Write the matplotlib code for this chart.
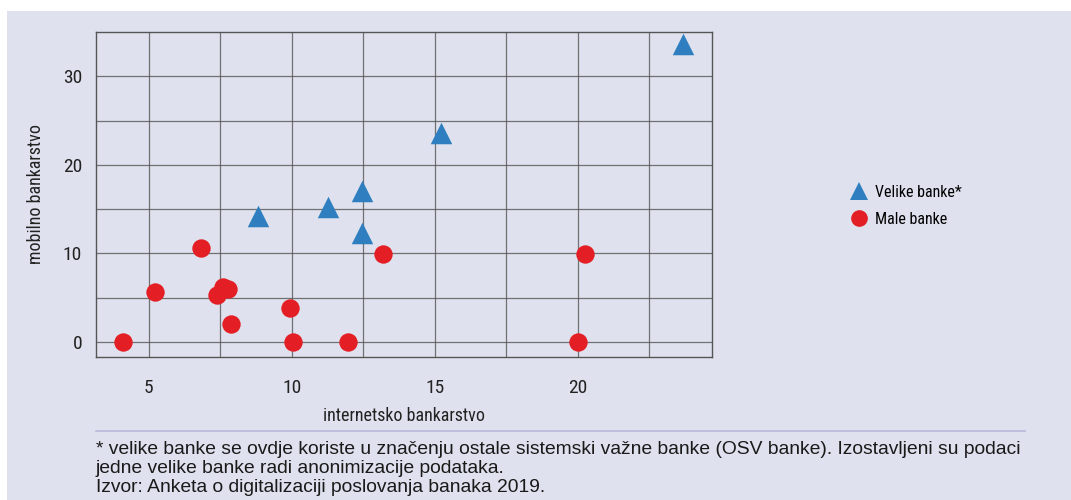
import matplotlib
matplotlib.use("Agg")
import matplotlib.pyplot as plt
from matplotlib.patches import Rectangle
from matplotlib.lines import Line2D
import numpy as np

velike_x = [23.67, 15.21, 8.81, 11.26, 12.45, 12.45]
velike_y = [33.6, 23.6, 14.2, 15.2, 17.1, 12.3]
male_x = [4.09, 5.21, 6.82, 7.38, 7.59, 7.76, 7.87, 9.93, 10.03, 11.96, 13.18, 20.0, 20.24]
male_y = [0, 5.6, 10.6, 5.3, 6.2, 6.0, 2.0, 3.8, 0, 0, 9.9, 0, 9.9]
x_ticks = [5, 10, 15, 20]
y_ticks = [0, 10, 20, 30]
x_label = "internetsko bankarstvo"
y_label = "mobilno bankarstvo"
legend_labels = ["Velike banke*", "Male banke"]
footnote = ["* velike banke se ovdje koriste u značenju ostale sistemski važne banke (OSV banke). Izostavljeni su podaci",
            "jedne velike banke radi anonimizacije podataka.",
            "Izvor: Anketa o digitalizaciji poslovanja banaka 2019."]

BG = "#dfe2ee"
BLUE = "#2f7fc0"
RED = "#e31e24"
GRID = "#555555"
narrow = ["Liberation Sans Narrow", "Roboto Condensed", "DejaVu Sans"]
regular = ["Liberation Sans", "DejaVu Sans"]

W, H = 1071, 500
fig = plt.figure(figsize=(W/100, H/100), dpi=100)
fig.patch.set_facecolor("white")
fig.patches.append(Rectangle((7/W, 0), 1 - 7/W, 1 - 11/H, transform=fig.transFigure,
                             facecolor=BG, edgecolor="none", zorder=-10))

ax = fig.add_axes([96/W, 1 - 357/H, (712 - 96)/W, (357 - 32)/H])
ax.set_facecolor(BG)
ax.set_xlim(3.15, 24.69)
ax.set_ylim(-1.7, 35.0)
ax.set_xticks(x_ticks)
ax.set_xticks([7.5, 12.5, 17.5, 22.5], minor=True)
ax.set_yticks(y_ticks)
ax.set_yticks([5, 15, 25], minor=True)
ax.grid(True, which="both", color=GRID, linewidth=0.9, alpha=0.8)
ax.set_axisbelow(True)
ax.tick_params(which="both", length=0)
ax.tick_params(axis="x", pad=16, labelsize=14, labelcolor="#222222")
ax.tick_params(axis="y", pad=10, labelsize=14, labelcolor="#222222")
for lab in ax.get_xticklabels() + ax.get_yticklabels():
    lab.set_family(narrow)
for s in ax.spines.values():
    s.set_color(GRID)
    s.set_linewidth(1.0)

ax.scatter(velike_x, velike_y, marker="^", s=240, color=BLUE, linewidths=0, zorder=3)
ax.scatter(male_x, male_y, marker="o", s=175, color=RED, linewidths=0, zorder=3)

ax.set_xlabel(x_label, family=narrow, fontsize=13, color="#222222")
ax.set_ylabel(y_label, family=narrow, fontsize=13, color="#222222")
ax.xaxis.set_label_coords(0.5, -(407 - 357)/(357 - 32))
ax.yaxis.set_label_coords(-(96 - 45)/(712 - 96), 0.5)

handles = [Line2D([], [], marker="^", linestyle="none", color=BLUE, markersize=13, markeredgewidth=0),
           Line2D([], [], marker="o", linestyle="none", color=RED, markersize=12, markeredgewidth=0)]
fig.legend(handles, legend_labels, loc="center left", bbox_to_anchor=(851/W, 1 - 206/H),
           frameon=False, prop={"family": narrow, "size": 11.5}, handlelength=1.0,
           handletextpad=0.5, labelspacing=0.75, borderpad=0, borderaxespad=0)

fig.add_artist(Line2D([96/W, 1025/W], [1 - 431/H, 1 - 431/H], transform=fig.transFigure,
                      color="#b7b9d9", linewidth=1.2))
for i, line in enumerate(footnote):
    fig.text(96/W, 1 - (449 + 19.5*i)/H, line, family=regular, fontsize=13.85,
             color="#1a1a1a", va="center", ha="left")

fig.savefig("out.png", dpi=100, facecolor="white")
